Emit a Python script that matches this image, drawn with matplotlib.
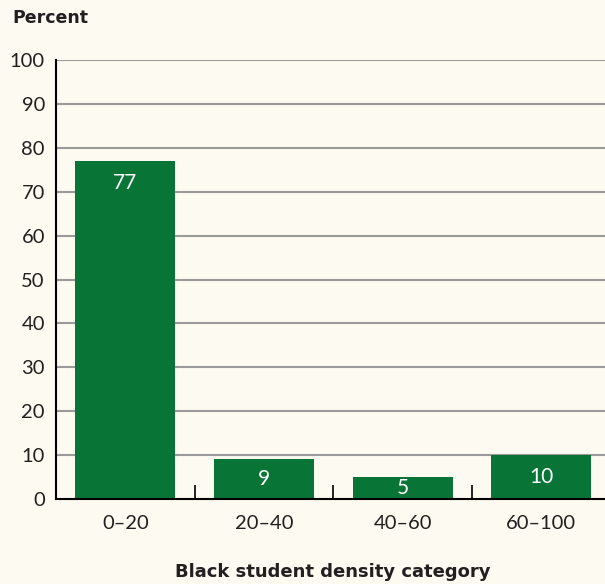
import matplotlib
matplotlib.use("Agg")
import matplotlib.pyplot as plt

categories = ["0\u201320", "20\u201340", "40\u201360", "60\u2013100"]
values = [77, 9, 5, 10]
yticks = [0, 10, 20, 30, 40, 50, 60, 70, 80, 90, 100]

bg = "#FDFAF1"
green = "#087536"
txt = "#231f20"
plt.rcParams['font.family'] = ['Lato', 'DejaVu Sans']

fig = plt.figure(figsize=(6.05, 5.84), dpi=100, facecolor=bg)
ax = fig.add_axes([56/605, 1-499/584, 1-56/605, (499-60)/584])
ax.set_facecolor(bg)

x = list(range(len(categories)))
ax.bar(x, values, width=0.72, color=green, zorder=3)
for xi, v in zip(x, values):
    y = v - 5 if v >= 10 else v / 2
    ax.text(xi, y, str(v), ha='center', va='center', color='white', fontsize=15, zorder=4)

ax.set_ylim(0, 100)
ax.set_xlim(-0.5, 3.46)
ax.set_yticks(yticks)
ax.set_yticklabels([str(t) for t in yticks], fontsize=14.5, color=txt)
for t in yticks[1:]:
    ax.axhline(t, color='#9a9a9a', lw=1.5, zorder=1)

ax.set_xticks([0.5, 1.5, 2.5])
ax.set_xticklabels([])
ax.tick_params(axis='x', direction='in', length=10, width=1.2, color='black')
ax.tick_params(axis='y', length=0, pad=8)
for xi, c in zip(x, categories):
    ax.text(xi, -3.6, c, ha='center', va='top', fontsize=14.5, color=txt)

for s in ['top', 'right']:
    ax.spines[s].set_visible(False)
ax.spines['left'].set_linewidth(1.5)
ax.spines['bottom'].set_linewidth(1.5)
ax.spines['left'].set_zorder(5)
ax.spines['bottom'].set_zorder(5)

fig.text(12/605, 1-18/584, "Percent", fontsize=12.5, fontweight='bold', color=txt,
         va='center', ha='left', family='DejaVu Sans')
fig.text(333/605, 1-572/584, "Black student density category", fontsize=13, fontweight='bold',
         color=txt, va='center', ha='center', family='DejaVu Sans')

fig.savefig("out.png", dpi=100, facecolor=bg)
